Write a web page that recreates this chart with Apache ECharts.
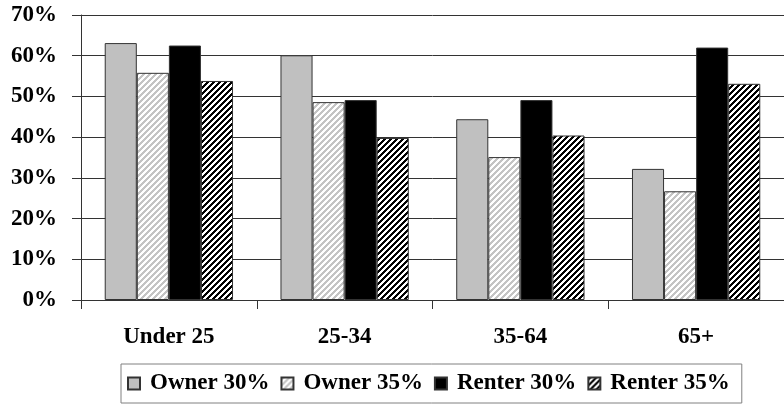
<!DOCTYPE html>
<html>
<head>
<meta charset="utf-8">
<script src="https://cdn.jsdelivr.net/npm/echarts@6/dist/echarts.min.js"></script>
<style>
  html, body { margin: 0; padding: 0; background: #fff; }
  #chart { width: 784px; height: 404px; }
</style>
</head>
<body>
<div id="chart"></div>
<script>
// Age groups and shares of households (%)
const categories = ['Under 25', '25-34', '35-64', '65+'];
const owner30 = [63.1, 60.1, 44.4, 32.2];
const owner35 = [55.8, 48.6, 35.1, 26.7];
const renter30 = [62.5, 49.1, 49.1, 62.0];
const renter35 = [53.8, 39.8, 40.4, 53.1];
const seriesNames = ['Owner 30%', 'Owner 35%', 'Renter 30%', 'Renter 35%'];

// Diagonal "/" hatch tile
function hatch(ink, paper, period, thick) {
  const c = document.createElement('canvas');
  c.width = period; c.height = period;
  const ctx = c.getContext('2d');
  ctx.fillStyle = paper;
  ctx.fillRect(0, 0, period, period);
  ctx.fillStyle = ink;
  for (let y = 0; y < period; y++) {
    for (let x = 0; x < period; x++) {
      if ((x + y) % period < thick) ctx.fillRect(x, y, 1, 1);
    }
  }
  return { image: c, repeat: 'repeat' };
}

const font = 'Liberation Serif';
const border = { borderColor: '#333', borderWidth: 1 };

const chart = echarts.init(document.getElementById('chart'), null, { renderer: 'canvas' });
chart.setOption({
  animation: false,
  backgroundColor: '#fff',
  grid: { left: 81, top: 15, bottom: 104, width: 714 },
  legend: {
    left: 121, top: 364,
    padding: [8, 12, 8, 6],
    borderColor: '#808080', borderWidth: 1,
    itemWidth: 12, itemHeight: 12, itemGap: 11,
    icon: 'rect',
    textStyle: { fontFamily: font, fontWeight: 'bold', fontSize: 23, color: '#000',
                 width: 127, padding: [0, 0, 0, 5] },
    data: seriesNames
  },
  xAxis: {
    type: 'category',
    data: categories,
    axisLine: { lineStyle: { color: '#333', width: 1 } },
    axisTick: { show: true, length: 9, interval: 0, lineStyle: { color: '#333' } },
    axisLabel: { margin: 26, fontFamily: font, fontWeight: 'bold', fontSize: 23, color: '#000', interval: 0 },
    splitLine: { show: false }
  },
  yAxis: {
    type: 'value',
    min: 0, max: 70, interval: 10,
    axisLine: { show: true, lineStyle: { color: '#333', width: 1 } },
    axisTick: { show: true, length: 9, inside: false, lineStyle: { color: '#333' } },
    axisLabel: { formatter: '{value}%', margin: 24, fontFamily: font, fontWeight: 'bold', fontSize: 23, color: '#000' },
    splitLine: { show: true, lineStyle: { color: '#333', width: 1 } }
  },
  series: [
    { name: seriesNames[0], type: 'bar', data: owner30, barGap: '0%', barCategoryGap: '27%',
      itemStyle: Object.assign({ color: '#c0c0c0' }, border) },
    { name: seriesNames[1], type: 'bar', data: owner35,
      itemStyle: Object.assign({ color: hatch('#c4c4c4', '#ffffff', 6, 3) }, border) },
    { name: seriesNames[2], type: 'bar', data: renter30,
      itemStyle: Object.assign({ color: '#000' }, border) },
    { name: seriesNames[3], type: 'bar', data: renter35,
      itemStyle: Object.assign({ color: hatch('#000000', '#ffffff', 6, 3) }, border) }
  ]
});
</script>
</body>
</html>
